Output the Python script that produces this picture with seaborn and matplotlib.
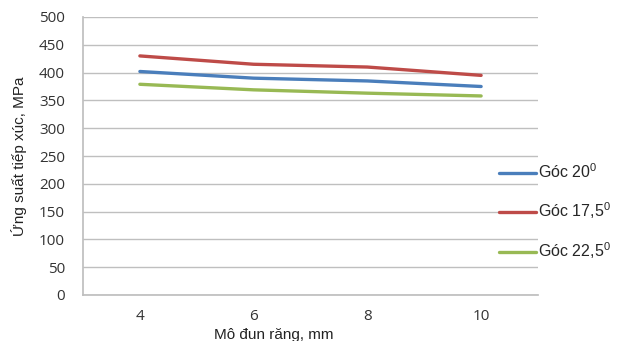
import matplotlib
matplotlib.use("Agg")
import matplotlib.pyplot as plt
import seaborn as sns
import pandas as pd
from matplotlib.lines import Line2D

modules = [4, 6, 8, 10]
goc_20 = [402, 390, 385, 375]
goc_17_5 = [430, 415, 410, 395]
goc_22_5 = [379, 369, 363, 358]
series_labels = ["Góc 20$^{0}$", "Góc 17,5$^{0}$", "Góc 22,5$^{0}$"]
colors = ["#4a7ebb", "#be4b48", "#98b954"]
yticks = [0, 50, 100, 150, 200, 250, 300, 350, 400, 450, 500]

sns.set_theme(style="white")
plt.rcParams['font.family'] = ['Liberation Sans', 'DejaVu Sans']
plt.rcParams['mathtext.fontset'] = 'custom'
plt.rcParams['mathtext.rm'] = 'Liberation Sans'
plt.rcParams['mathtext.it'] = 'Liberation Sans'
plt.rcParams['mathtext.default'] = 'regular'

rows = []
for lab, vals in zip(series_labels, [goc_20, goc_17_5, goc_22_5]):
    for m, v in zip(modules, vals):
        rows.append({"m": m, "v": v, "s": lab})
df = pd.DataFrame(rows)

fig = plt.figure(figsize=(6.26, 3.41), dpi=100)
ax = fig.add_axes([83/626, 46/341, (538-83)/626, (295-17)/341])
sns.lineplot(data=df, x="m", y="v", hue="s", palette=colors, hue_order=series_labels,
             linewidth=2.4, ax=ax, legend=False)

ax.set_xlim(3, 11)
ax.set_ylim(0, 500)
ax.set_yticks(yticks)
ax.set_xticks(modules)
ax.grid(axis="y", color="#bfbfbf", linewidth=1)
ax.set_axisbelow(True)
for s in ["top", "right"]:
    ax.spines[s].set_visible(False)
ax.spines["left"].set_color("#bfbfbf")
ax.spines["bottom"].set_color("#bfbfbf")
ax.tick_params(axis="both", length=0, labelcolor="#333333")
for lbl in ax.get_xticklabels() + ax.get_yticklabels():
    lbl.set_fontfamily(['Open Sans', 'DejaVu Sans'])
    lbl.set_fontsize(11)
ax.tick_params(axis="x", pad=10)
ax.tick_params(axis="y", pad=13)
ax.set_xlabel("Mô đun răng, mm", fontsize=11, color="#222222")
ax.set_ylabel("Ứng suất tiếp xúc, MPa", fontsize=11, color="#222222")
ax.xaxis.set_label_coords(0.42, -0.118)
ax.yaxis.set_label_coords(-0.122, 0.5)

handles = [Line2D([0], [0], color=c, linewidth=2.4) for c in colors]
fig.legend(handles, series_labels, loc="center left", bbox_to_anchor=(499/626, 1 - 212/341),
           frameon=False, fontsize=11.5, handlelength=2.3, handletextpad=0.15,
           labelspacing=1.2, borderaxespad=0, borderpad=0)

fig.savefig("out.png", dpi=100)
